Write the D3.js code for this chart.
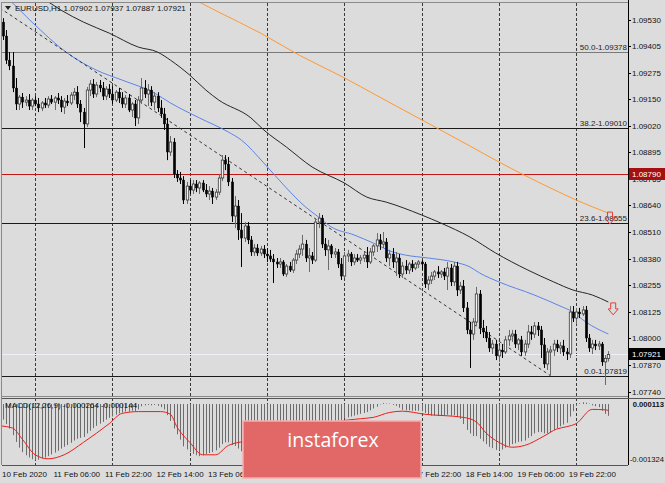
<!DOCTYPE html>
<html><head><meta charset="utf-8">
<script src="https://cdn.jsdelivr.net/npm/d3@7"></script>
<style>
html,body{margin:0;padding:0;background:#dcdcdc;overflow:hidden;}
svg{display:block;font-family:"Liberation Sans",Arial,sans-serif;}
</style></head><body>
<svg id="c" width="665" height="483"></svg>
<script>
// ---------------- DATA ----------------
const symbolTitle = "EURUSD,H1";
const lastQuote = [1.07902, 1.07937, 1.07887, 1.07921];
// [open, high, low, close] per H1 bar, from 10 Feb 14:00
const candles = [
[1.09520,1.09539,1.09434,1.09453],[1.09453,1.09482,1.09318,1.09337],[1.09337,1.09376,1.09289,1.09309],[1.09309,1.09376,1.09183,1.09203],
[1.09203,1.09251,1.09097,1.09126],[1.09126,1.09169,1.09097,1.09159],[1.09159,1.09179,1.09107,1.09135],[1.09135,1.09164,1.09116,1.09145],
[1.09145,1.09174,1.09097,1.09116],[1.09116,1.09155,1.09097,1.09145],[1.09145,1.09164,1.09116,1.09126],[1.09126,1.09155,1.09087,1.09107],
[1.09107,1.09140,1.09092,1.09131],[1.09131,1.09155,1.09107,1.09121],[1.09121,1.09164,1.09107,1.09150],[1.09150,1.09169,1.09126,1.09135],
[1.09135,1.09164,1.09097,1.09155],[1.09155,1.09179,1.09126,1.09145],[1.09145,1.09164,1.09087,1.09111],[1.09111,1.09155,1.09078,1.09140],
[1.09140,1.09169,1.09116,1.09131],[1.09131,1.09183,1.09121,1.09169],[1.09169,1.09203,1.09145,1.09183],[1.09183,1.09212,1.09107,1.09126],
[1.09126,1.09145,1.09039,1.09087],[1.09087,1.09107,1.08914,1.09030],[1.09030,1.09208,1.09015,1.09193],[1.09193,1.09241,1.09164,1.09222],
[1.09222,1.09246,1.09155,1.09174],[1.09174,1.09232,1.09159,1.09217],[1.09217,1.09241,1.09183,1.09203],[1.09203,1.09232,1.09145,1.09164],
[1.09164,1.09212,1.09145,1.09198],[1.09198,1.09222,1.09155,1.09174],[1.09174,1.09212,1.09126,1.09145],[1.09145,1.09193,1.09135,1.09183],
[1.09183,1.09203,1.09131,1.09155],[1.09155,1.09183,1.09107,1.09126],[1.09126,1.09169,1.09107,1.09155],[1.09155,1.09174,1.09087,1.09097],
[1.09097,1.09135,1.09063,1.09126],[1.09126,1.09145,1.09020,1.09059],[1.09059,1.09164,1.09030,1.09145],[1.09145,1.09251,1.09126,1.09203],
[1.09203,1.09241,1.09155,1.09174],[1.09174,1.09222,1.09116,1.09193],[1.09193,1.09212,1.09116,1.09135],[1.09135,1.09183,1.09097,1.09164],
[1.09164,1.09183,1.09087,1.09107],[1.09107,1.09145,1.09059,1.09078],[1.09078,1.09107,1.09001,1.09030],[1.09030,1.09059,1.08856,1.08895],
[1.08895,1.08972,1.08876,1.08943],[1.08943,1.08962,1.08770,1.08789],[1.08789,1.08808,1.08751,1.08770],[1.08770,1.08799,1.08741,1.08760],
[1.08760,1.08779,1.08645,1.08664],[1.08664,1.08751,1.08645,1.08731],[1.08731,1.08760,1.08693,1.08712],[1.08712,1.08760,1.08693,1.08741],
[1.08741,1.08760,1.08702,1.08722],[1.08722,1.08755,1.08693,1.08746],[1.08746,1.08760,1.08702,1.08712],[1.08712,1.08741,1.08678,1.08693],
[1.08693,1.08731,1.08664,1.08707],[1.08707,1.08722,1.08645,1.08678],[1.08678,1.08717,1.08664,1.08702],[1.08702,1.08789,1.08688,1.08770],
[1.08770,1.08880,1.08755,1.08856],[1.08856,1.08880,1.08808,1.08837],[1.08837,1.08871,1.08731,1.08751],[1.08751,1.08770,1.08558,1.08587],
[1.08587,1.08683,1.08529,1.08635],[1.08635,1.08664,1.08472,1.08520],[1.08520,1.08601,1.08342,1.08481],[1.08481,1.08558,1.08462,1.08539],
[1.08539,1.08558,1.08452,1.08472],[1.08472,1.08491,1.08395,1.08414],[1.08414,1.08452,1.08395,1.08433],[1.08433,1.08452,1.08395,1.08409],
[1.08409,1.08443,1.08395,1.08428],[1.08428,1.08447,1.08385,1.08404],[1.08404,1.08433,1.08366,1.08395],[1.08395,1.08424,1.08366,1.08380],
[1.08380,1.08404,1.08265,1.08366],[1.08366,1.08385,1.08337,1.08356],[1.08356,1.08385,1.08337,1.08366],[1.08366,1.08375,1.08298,1.08308],
[1.08308,1.08356,1.08294,1.08346],[1.08346,1.08366,1.08318,1.08327],[1.08327,1.08385,1.08313,1.08375],[1.08375,1.08424,1.08356,1.08404],
[1.08404,1.08447,1.08385,1.08428],[1.08428,1.08496,1.08395,1.08452],[1.08452,1.08472,1.08366,1.08385],[1.08385,1.08433,1.08318,1.08395],
[1.08395,1.08414,1.08356,1.08375],[1.08375,1.08577,1.08366,1.08558],[1.08558,1.08601,1.08529,1.08577],[1.08577,1.08592,1.08433,1.08452],
[1.08452,1.08481,1.08395,1.08424],[1.08424,1.08472,1.08327,1.08443],[1.08443,1.08452,1.08385,1.08404],[1.08404,1.08433,1.08385,1.08414],
[1.08414,1.08428,1.08337,1.08356],[1.08356,1.08385,1.08279,1.08298],[1.08298,1.08414,1.08289,1.08395],[1.08395,1.08424,1.08366,1.08404],
[1.08404,1.08414,1.08346,1.08366],[1.08366,1.08404,1.08351,1.08385],[1.08385,1.08404,1.08366,1.08375],[1.08375,1.08399,1.08356,1.08385],
[1.08385,1.08414,1.08366,1.08399],[1.08399,1.08438,1.08337,1.08366],[1.08366,1.08433,1.08356,1.08414],[1.08414,1.08452,1.08395,1.08443],
[1.08443,1.08505,1.08414,1.08472],[1.08472,1.08500,1.08424,1.08452],[1.08452,1.08510,1.08433,1.08462],[1.08462,1.08481,1.08366,1.08385],
[1.08385,1.08424,1.08346,1.08404],[1.08404,1.08433,1.08337,1.08366],[1.08366,1.08414,1.08298,1.08385],[1.08385,1.08404,1.08289,1.08308],
[1.08308,1.08366,1.08289,1.08346],[1.08346,1.08375,1.08308,1.08327],[1.08327,1.08366,1.08308,1.08356],[1.08356,1.08375,1.08318,1.08337],
[1.08337,1.08366,1.08327,1.08356],[1.08356,1.08375,1.08337,1.08366],[1.08366,1.08375,1.08327,1.08356],[1.08356,1.08366,1.08241,1.08260],
[1.08260,1.08298,1.08231,1.08279],[1.08279,1.08318,1.08260,1.08298],[1.08298,1.08327,1.08279,1.08318],[1.08318,1.08346,1.08289,1.08308],
[1.08308,1.08327,1.08289,1.08318],[1.08318,1.08337,1.08279,1.08298],[1.08298,1.08366,1.08231,1.08337],[1.08337,1.08356,1.08250,1.08270],
[1.08270,1.08366,1.08250,1.08346],[1.08346,1.08366,1.08202,1.08231],[1.08231,1.08270,1.08212,1.08250],[1.08250,1.08279,1.08125,1.08145],
[1.08145,1.08173,1.08019,1.08039],[1.08039,1.08077,1.07856,1.08019],[1.08019,1.08096,1.07991,1.08077],[1.08077,1.08246,1.08058,1.08212],
[1.08212,1.08231,1.08019,1.08048],[1.08048,1.08087,1.08000,1.08029],[1.08029,1.08058,1.07981,1.08000],[1.08000,1.08029,1.07933,1.07952],
[1.07952,1.07991,1.07923,1.07971],[1.07971,1.07991,1.07894,1.07914],[1.07914,1.07962,1.07885,1.07942],[1.07942,1.07971,1.07904,1.07933],
[1.07933,1.08010,1.07923,1.07991],[1.07991,1.08039,1.07962,1.08010],[1.08010,1.08039,1.07981,1.08019],[1.08019,1.08039,1.07952,1.07971],
[1.07971,1.08000,1.07942,1.07991],[1.07991,1.08010,1.07914,1.07933],[1.07933,1.07991,1.07914,1.07971],[1.07971,1.08063,1.07952,1.08029],
[1.08029,1.08058,1.07991,1.08019],[1.08019,1.08077,1.08000,1.08058],[1.08058,1.08077,1.08010,1.08039],[1.08039,1.08058,1.07904,1.07967],
[1.07967,1.08000,1.07856,1.07875],[1.07875,1.07952,1.07846,1.07933],[1.07933,1.07962,1.07819,1.07942],[1.07942,1.07991,1.07914,1.07971],
[1.07971,1.07991,1.07933,1.07952],[1.07952,1.07981,1.07923,1.07962],[1.07962,1.07991,1.07914,1.07933],[1.07933,1.07952,1.07894,1.07923],
[1.07923,1.08154,1.07904,1.08125],[1.08125,1.08154,1.08077,1.08096],[1.08096,1.08145,1.08068,1.08125],[1.08125,1.08145,1.08096,1.08116],
[1.08116,1.08154,1.08106,1.08135],[1.08135,1.08154,1.07981,1.08000],[1.08000,1.08019,1.07933,1.07952],[1.07952,1.07991,1.07923,1.07971],
[1.07971,1.07991,1.07942,1.07962],[1.07962,1.07986,1.07942,1.07971],[1.07971,1.07981,1.07866,1.07885],[1.07885,1.07918,1.07774,1.07902],
[1.07902,1.07937,1.07887,1.07921]
];
const timeLabelBars = [0,16,32,48,64,80,96,112,128,144,160,176];
const timeLabels = ["10 Feb 2020","11 Feb 06:00","11 Feb 22:00","12 Feb 14:00","13 Feb 06:00","13 Feb 22:00","14 Feb 14:00","17 Feb 06:00","17 Feb 22:00","18 Feb 14:00","19 Feb 06:00","19 Feb 22:00"];
const dayGridBars = [10,34,58,82,106,130,154,178];
const priceTicks = [1.09530,1.09405,1.09275,1.09150,1.09020,1.08895,1.08765,1.08640,1.08510,1.08380,1.08255,1.08125,1.08000,1.07870,1.07740];
const fibLevels = ["50.0","38.2","23.6","0.0"];
const fibPrices = [1.09378,1.09010,1.08555,1.07819];
const resistancePrice = 1.08790;
// moving averages: [bar, price]
const maFast = [[-1,1.09665],[2,1.09626],[9,1.09520],[20,1.09371],[29,1.09289],[37,1.09241],[47,1.09179],[52,1.09131],[61,1.09059],[70,1.08991],[74,1.08953],[81,1.08842],[88,1.08722],[94,1.08630],[98,1.08582],[102,1.08534],[109,1.08496],[115,1.08457],[121,1.08414],[125,1.08399],[132,1.08385],[140,1.08366],[145,1.08342],[148,1.08313],[154,1.08270],[165,1.08207],[173,1.08154],[177,1.08125],[181,1.08077],[188,1.08019]];
const maMid = [[11,1.09650],[18,1.09578],[25,1.09520],[33,1.09467],[42,1.09400],[48,1.09376],[52,1.09337],[58,1.09265],[63,1.09193],[67,1.09145],[77,1.09059],[81,1.09001],[88,1.08919],[96,1.08823],[106,1.08746],[113,1.08678],[119,1.08654],[130,1.08592],[136,1.08553],[145,1.08486],[153,1.08409],[163,1.08327],[171,1.08270],[177,1.08231],[183,1.08207],[188,1.08173]];
const maSlow = [[58,1.09640],[67,1.09568],[80,1.09467],[92,1.09361],[105,1.09260],[117,1.09159],[133,1.09025],[145,1.08924],[154,1.08847],[170,1.08722],[178,1.08664],[188,1.08601]];
const trendLine = [[-1,1.09588],[170,1.07819]];
const arrowBars = [188.5,189.5];
const arrowPrices = [1.08606,1.08169];
const macdMain = [-0.00035,-0.00045,-0.00055,-0.0007,-0.00085,-0.00098,-0.00108,-0.00115,-0.0012,-0.00124,
-0.00126,-0.00125,-0.00122,-0.0012,-0.00117,-0.00113,-0.00109,-0.00105,-0.001,-0.00096,
-0.00092,-0.00087,-0.00082,-0.00078,-0.00076,-0.00074,-0.00066,-0.0006,-0.00054,-0.00049,
-0.00044,-0.0004,-0.00035,-0.00031,-0.00028,-0.00024,-0.00021,-0.00019,-0.00017,-0.00017,
-0.00015,-0.00016,-0.00012,-0.00005,-0.00003,-0.00002,-0.00003,-0.00002,-0.00004,-0.00007,
-0.00012,-0.00025,-0.00038,-0.00055,-0.00068,-0.0008,-0.00095,-0.00102,-0.00108,-0.00112,
-0.00115,-0.00117,-0.00115,-0.00112,-0.0011,-0.00108,-0.00104,-0.00098,-0.0009,-0.00086,
-0.00086,-0.00092,-0.00094,-0.001,-0.00106,-0.0011,-0.00116,-0.0012,-0.00124,-0.00126,
-0.00127,-0.00127,-0.00126,-0.00125,-0.00124,-0.00122,-0.0012,-0.0012,-0.00118,-0.00116,
-0.00112,-0.00107,-0.00102,-0.00097,-0.00094,-0.00091,-0.00088,-0.00072,-0.00062,-0.00058,
-0.0005,-0.00046,-0.00042,-0.0004,-0.00038,-0.00036,-0.00032,-0.0003,-0.00028,-0.00026,
-0.00024,-0.00022,-0.0002,-0.00018,-0.00014,-0.0001,-0.00006,-0.00001,0.00002,0.00001,
0.00001,-0.00002,-0.00004,-0.00008,-0.00013,-0.00014,-0.00014,-0.00015,-0.00015,-0.00015,
-0.00016,-0.0002,-0.00024,-0.00026,-0.00026,-0.00027,-0.00026,-0.00026,-0.00024,-0.00026,
-0.00025,-0.00029,-0.00033,-0.00045,-0.00058,-0.00066,-0.00072,-0.00072,-0.00078,-0.00084,
-0.0009,-0.00096,-0.00099,-0.00103,-0.00104,-0.00102,-0.00098,-0.00094,-0.0009,-0.00088,
-0.00085,-0.00084,-0.00082,-0.00076,-0.00072,-0.00066,-0.00063,-0.00063,-0.00066,-0.00066,
-0.00064,-0.00058,-0.00054,-0.0005,-0.00046,-0.00042,-0.00028,-0.00016,-0.00004,0.00002,
0.00004,0.00003,0.00001,-0.00003,-0.00005,-0.00007,-0.00015,-0.00022,-0.000264];
const macdSignal = [[-1,-0.00049],[3,-0.00054],[6,-0.00079],[10,-0.00114],[14,-0.00123],[19,-0.00114],[25,-0.00086],[33,-0.00044],[37,-0.00021],[42,-0.00017],[49,-0.00017],[52,-0.00023],[54,-0.00051],[58,-0.00086],[62,-0.00114],[66,-0.00114],[70,-0.00093],[75,-0.00085],[78,-0.001],[85,-0.00118],[91,-0.00111],[94,-0.00104],[99,-0.00068],[104,-0.0004],[111,-0.00033],[115,-0.0003],[120,-0.00019],[124,-0.00016],[131,-0.00023],[143,-0.0003],[147,-0.0004],[150,-0.00065],[154,-0.00086],[158,-0.00097],[162,-0.00093],[168,-0.00072],[172,-0.00056],[175,-0.00051],[178,-0.00044],[183,-0.00012],[187,-0.00013],[188,-0.000144]];
const macdTicks = [0.000113,-0.001324];
const macdName = "MACD(12,26,9)";
const watermark = "instaforex";

// ---------------- DRAW ----------------
const svg = d3.select("#c");
const W = 665, H = 483;
const axisX = 628;
const mainTop = 3, mainBot = 396, subTop = 399, subBot = 465;

const x = d3.scaleLinear().domain([0, 188]).range([3, 3 + 188 * 3.22]);
const y = d3.scaleLinear().domain([1.07721, 1.09612]).range([mainBot, mainTop]);
const ym = d3.scaleLinear().domain([-0.001324, 0.000113]).range([463, subTop]);

svg.append("rect").attr("width", W).attr("height", H).attr("fill", "#dcdcdc");

const defs = svg.append("defs");
defs.append("clipPath").attr("id", "cm").append("rect").attr("x", 2).attr("y", mainTop).attr("width", axisX - 2).attr("height", mainBot - mainTop);
defs.append("clipPath").attr("id", "cs").append("rect").attr("x", 2).attr("y", subTop).attr("width", axisX - 2).attr("height", subBot - subTop);

// vertical day grid
svg.append("g").selectAll("line").data(dayGridBars).join("line")
  .attr("x1", d => Math.round(x(d)) + 0.5).attr("x2", d => Math.round(x(d)) + 0.5)
  .attr("y1", mainTop).attr("y2", subBot)
  .attr("stroke", "#3a3a3a").attr("stroke-width", 1).attr("stroke-dasharray", "3,2");

const gm = svg.append("g").attr("clip-path", "url(#cm)");

// horizontal levels
gm.selectAll("line.fib").data(fibPrices).join("line").attr("class", "fib")
  .attr("x1", 2).attr("x2", axisX)
  .attr("y1", d => Math.round(y(d)) + 0.5).attr("y2", d => Math.round(y(d)) + 0.5)
  .attr("stroke", (d, i) => i === 0 ? "#7a7a7a" : "#1a1a1a").attr("stroke-width", 1);
gm.append("line").attr("x1", 2).attr("x2", axisX)
  .attr("y1", Math.round(y(resistancePrice)) + 0.5).attr("y2", Math.round(y(resistancePrice)) + 0.5)
  .attr("stroke", "#c01818").attr("stroke-width", 1);
gm.append("line").attr("x1", 2).attr("x2", axisX)
  .attr("y1", Math.round(y(lastQuote[3])) + 0.5).attr("y2", Math.round(y(lastQuote[3])) + 0.5)
  .attr("stroke", "#eeeef8").attr("stroke-width", 1);

// moving averages
const lineGen = d3.line().x(d => x(d[0])).y(d => y(d[1])).curve(d3.curveMonotoneX);
gm.append("path").attr("d", lineGen(maSlow)).attr("fill", "none").attr("stroke", "#ff9933").attr("stroke-width", 1);
gm.append("path").attr("d", lineGen(maMid)).attr("fill", "none").attr("stroke", "#262626").attr("stroke-width", 1);
gm.append("path").attr("d", lineGen(maFast)).attr("fill", "none").attr("stroke", "#5b84e8").attr("stroke-width", 1);

// trend line
gm.append("line")
  .attr("x1", x(trendLine[0][0])).attr("y1", y(trendLine[0][1]))
  .attr("x2", x(trendLine[1][0])).attr("y2", y(trendLine[1][1]))
  .attr("stroke", "#333").attr("stroke-width", 1).attr("stroke-dasharray", "3,3");

// candles
const cg = gm.append("g");
candles.forEach((c, i) => {
  const [o, h, l, cl] = c;
  const cx = Math.round(x(i)) + 0.5;
  const up = cl >= o;
  cg.append("line").attr("x1", cx).attr("x2", cx).attr("y1", y(h)).attr("y2", y(l))
    .attr("stroke", up ? "#6a6a6a" : "#000").attr("stroke-width", 1);
  const top = y(Math.max(o, cl)), bot = y(Math.min(o, cl));
  cg.append("rect").attr("x", cx - 1.2).attr("width", 2.4)
    .attr("y", top).attr("height", Math.max(1, bot - top))
    .attr("fill", up ? "#f2f2f2" : "#000")
    .attr("stroke", up ? "#3a3a3a" : "#000").attr("stroke-width", up ? 0.8 : 0.4);
});

// fib labels
svg.append("g").selectAll("text").data(fibPrices).join("text")
  .attr("x", axisX - 1).attr("y", d => Math.round(y(d)) - 2)
  .attr("text-anchor", "end").attr("font-size", 8).attr("fill", "#222")
  .text((d, i) => fibLevels[i] + "-" + d.toFixed(5));

// arrows
const arrowPath = (cx, t) => `M${cx-2.5},${t} L${cx+2.5},${t} L${cx+2.5},${t+6} L${cx+5},${t+6} L${cx},${t+12} L${cx-5},${t+6} L${cx-2.5},${t+6} Z`;
svg.append("g").selectAll("path").data(arrowBars).join("path")
  .attr("d", (d, i) => arrowPath(x(d), y(arrowPrices[i])))
  .attr("fill", "none").attr("stroke", "#e83a3a").attr("stroke-width", 1);

// price axis
svg.append("line").attr("x1", axisX + 0.5).attr("x2", axisX + 0.5).attr("y1", 0).attr("y2", subBot)
  .attr("stroke", "#000").attr("stroke-width", 1);
const pa = svg.append("g");
pa.selectAll("line").data(priceTicks).join("line")
  .attr("x1", axisX).attr("x2", axisX + 3)
  .attr("y1", d => Math.round(y(d)) + 0.5).attr("y2", d => Math.round(y(d)) + 0.5)
  .attr("stroke", "#000");
pa.selectAll("text").data(priceTicks).join("text")
  .attr("x", axisX + 4).attr("y", d => y(d) + 3)
  .attr("font-size", 8).attr("fill", "#111")
  .text(d => d.toFixed(5));

// price labels (resistance, last)
function priceTag(p, bg) {
  const yy = Math.round(y(p));
  svg.append("rect").attr("x", axisX + 1).attr("y", yy - 6).attr("width", 36).attr("height", 12).attr("fill", bg);
  svg.append("text").attr("x", axisX + 4).attr("y", yy + 3).attr("font-size", 8).attr("fill", "#fff").text(p.toFixed(5));
}
priceTag(resistancePrice, "#a3100f");
priceTag(lastQuote[3], "#000");

// title
svg.append("path").attr("d", "M5,6 L11,6 L8,10 Z").attr("fill", "#222");
svg.append("text").attr("x", 15).attr("y", 11).attr("font-size", 8).attr("fill", "#111")
  .text(symbolTitle + "  " + lastQuote.map(v => v.toFixed(5)).join(" "));

// panel frames
svg.append("line").attr("x1", 2).attr("x2", axisX).attr("y1", 2.5).attr("y2", 2.5).attr("stroke", "#8a8a8a");
svg.append("line").attr("x1", 2).attr("x2", axisX).attr("y1", mainBot + 0.5).attr("y2", mainBot + 0.5).attr("stroke", "#8a8a8a");
svg.append("line").attr("x1", 2).attr("x2", W).attr("y1", subTop - 0.5).attr("y2", subTop - 0.5).attr("stroke", "#555");
svg.append("line").attr("x1", 2).attr("x2", axisX).attr("y1", subBot + 0.5).attr("y2", subBot + 0.5).attr("stroke", "#555");
svg.append("line").attr("x1", 1.5).attr("x2", 1.5).attr("y1", 2).attr("y2", subBot).attr("stroke", "#8a8a8a");

// MACD panel
const gs = svg.append("g").attr("clip-path", "url(#cs)");
gs.selectAll("line").data(macdMain).join("line")
  .attr("x1", (d, i) => Math.round(x(i)) + 0.5).attr("x2", (d, i) => Math.round(x(i)) + 0.5)
  .attr("y1", ym(0)).attr("y2", d => ym(d))
  .attr("stroke", "#6c6c6c").attr("stroke-width", 1);
const sigGen = d3.line().x(d => x(d[0])).y(d => ym(d[1])).curve(d3.curveMonotoneX);
gs.append("path").attr("d", sigGen(macdSignal)).attr("fill", "none").attr("stroke", "#e8201a").attr("stroke-width", 1);

svg.append("text").attr("x", 5).attr("y", 408).attr("font-size", 8).attr("fill", "#111")
  .text(macdName + " " + macdMain[macdMain.length - 1].toFixed(6) + " " + macdSignal[macdSignal.length - 1][1].toFixed(6));
svg.selectAll("text.mt").data(macdTicks).join("text").attr("class", "mt")
  .attr("x", 664).attr("text-anchor", "end")
  .attr("y", (d, i) => i === 0 ? ym(d) + 8 : ym(d) - 1)
  .attr("font-size", 7.6).attr("font-weight", (d, i) => i === 0 ? "bold" : "normal").attr("fill", "#111")
  .text(d => d.toFixed(6));

// time axis labels
svg.append("g").selectAll("text").data(timeLabelBars).join("text")
  .attr("x", d => x(d) - 1).attr("y", 477)
  .attr("font-size", 8).attr("fill", "#111")
  .text((d, i) => timeLabels[i]);

// watermark
svg.append("rect").attr("x", 243).attr("y", 421).attr("width", 178).attr("height", 57)
  .attr("fill", "#e26868").attr("stroke", "#f2b0b0").attr("stroke-width", 1.5);
svg.append("text").attr("x", 333).attr("y", 447).attr("text-anchor", "middle")
  .attr("font-family", "'Open Sans', 'Liberation Sans', sans-serif").attr("font-size", 19.5).attr("fill", "#fff")
  .text(watermark);
</script>
</body></html>
